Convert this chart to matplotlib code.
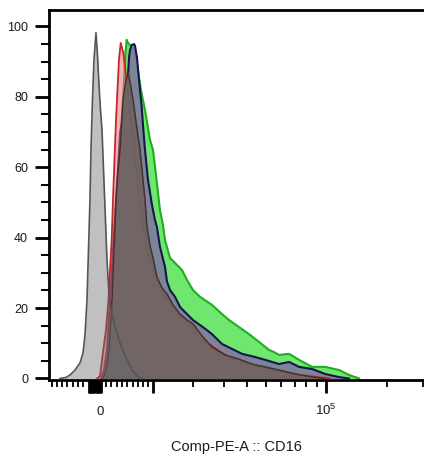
import matplotlib
matplotlib.use('Agg')
import matplotlib.pyplot as plt
from matplotlib.ticker import FixedLocator, FuncFormatter

plt.rcParams['font.family'] = ['Liberation Sans', 'DejaVu Sans']
plt.rcParams['mathtext.default'] = 'regular'

# ---------------- data (fluorescence value, % of max) ----------------
gray_x = [-7420, -6250, -5480, -4540, -3620, -3070, -2700, -2340, -2070, -1800, -1620,
          -1350, -1080, -720, -450, -180, 90, 360, 810, 1260, 1620, 2160, 2890, 3620,
          4730, 5860, 7020, 8010]
gray_y = [0, 0.3, 1.0, 2.4, 4.4, 7.2, 12.4, 22.3, 36.5, 50.7, 64.9,
          79.1, 90.5, 98.2, 91.9, 83.4, 76.3, 70.6, 52.1, 33.7, 23.7, 18.0, 13.8, 10.1,
          5.8, 2.4, 0.4, 0]

red_x = [-540, 0, 540, 1080, 1530, 1800, 2100, 2340, 2610, 2890, 3160, 3430, 3750, 3990,
         4230, 4730, 5480, 6250, 7020, 8010, 9440, 11580, 16360, 21940, 32500, 46770,
         74460, 104830]
red_y = [0, 0.7, 7.5, 13.8, 22.3, 30.8, 39.3, 50.7, 62.1, 73.4, 82.0, 90.5, 95.3, 93.9,
         92.5, 86.2, 76.3, 64.9, 55.0, 43.6, 33.1, 25.1, 17.2, 11.5, 5.8, 3.2,
         1.0, 0]

green_x = [360, 900, 1440, 1980, 2520, 3070, 3430, 3800, 4170, 4450, 4640, 4860, 5110,
           6060, 6920, 7590, 8420, 9440, 10080, 10720, 11580, 12260, 12720, 13900, 15100,
           16870, 18200, 19870, 21940, 25800, 29370, 32090, 36330, 41010, 46210, 52000,
           55120, 58440, 65600, 73600, 85420, 99040, 116100, 130000, 145500]
green_y = [0, 2.4, 8.1, 22.3, 36.5, 50.7, 60.7, 70.6, 79.1, 87.6, 92.5, 96.2, 95.3,
           93.9, 88.5, 82.0, 76.3, 67.8, 64.9, 57.8, 47.9, 43.6, 39.3, 34.2, 32.8,
           30.8, 28.0, 25.1, 23.2, 20.9, 18.3, 16.6, 14.6, 12.6, 10.4, 8.1,
           7.5, 6.7, 7.0, 5.3, 3.3, 3.3, 2.4, 1.0, 0]

navy_x = [180, 720, 1260, 1800, 2340, 2890, 3250, 3620, 4360, 4860, 5110, 5300, 5480,
          5810, 6250, 6440, 6830, 7220, 7760, 8010, 8420, 9030, 9860, 10500, 10930,
          11580, 12720, 13180, 13900, 15100, 16360, 19870, 22830, 25800, 29370, 33310,
          37680, 44060, 49620, 58440, 65600, 73600, 85420, 99040, 116100, 130000]
navy_y = [0, 2.4, 8.1, 22.3, 36.5, 50.7, 59.2, 69.7, 76.3, 79.1, 86.2, 91.1, 93.3,
          94.7, 95.0, 94.5, 91.1, 84.8, 77.1, 72.0, 64.9, 56.4, 49.3, 45.0, 43.0,
          37.4, 31.7, 27.5, 25.1, 23.2, 20.3, 16.6, 14.6, 12.6, 9.8, 8.4,
          7.0, 6.1, 5.3, 4.1, 4.7, 3.3, 2.7, 1.3, 0.4, 0]

brown_x = [540, 1080, 1620, 2160, 2520, 2890, 3250, 3620, 4170, 4730, 5160, 5580, 6060,
           6730, 7420, 8420, 8820, 9440, 10080, 10930, 12040, 13180, 14610, 16360, 18200,
           19870, 22830, 25800, 30500, 36330, 42510, 49620, 58440, 70310, 85420, 99040]
brown_y = [0, 2.4, 8.1, 22.3, 36.5, 50.7, 59.2, 64.9, 79.1, 84.8, 86.8, 83.4, 79.1,
           72.0, 64.9, 50.7, 43.0, 37.9, 34.2, 28.8, 25.7, 24.0, 20.9, 18.3, 16.6,
           15.5, 11.8, 8.9, 6.7, 5.5, 4.1, 3.3, 2.4, 1.3, 0.4, 0]

y_ticks = [0, 20, 40, 60, 80, 100]
x_tick_labels = {0: '0', 100000: r'$\mathregular{10^5}$'}

# ---------------- figure ----------------
W, H = 424, 454
fig = plt.figure(figsize=(W / 100, H / 100), dpi=100)
ax = fig.add_axes([49 / W, 74 / H, 375 / W, (444.5 - 74) / H])
ax.set_xscale('asinh', linear_width=16000)
ax.set_xlim(-9650, 302000)
ax.set_ylim(-0.43, 104.8)

series = [
    (green_x, green_y, '#3fe03f', 0.75, '#1fae1f', 1.5),
    (navy_x, navy_y, '#7d7d9d', 0.92, '#16164a', 1.5),
    (red_x, red_y, '#f07080', 0.55, '#c02828', 1.3),
    (brown_x, brown_y, '#6e6464', 0.95, '#4a2f2f', 1.1),
    (gray_x, gray_y, '#6a6a6a', 0.42, '#555555', 1.2),
]
for i, (x, y, fc, fa, lc, lw) in enumerate(series):
    ax.fill_between(x, y, 0, color=fc, alpha=fa, lw=0, zorder=2 + i)
    ax.plot(x, y, color=lc, lw=lw, zorder=2 + i, solid_joinstyle='round')

# spines
for s in ['left', 'top', 'bottom']:
    ax.spines[s].set_linewidth(2)
    ax.spines[s].set_color('black')
ax.spines['right'].set_visible(False)

# y ticks
ax.yaxis.set_major_locator(FixedLocator(y_ticks))
ax.yaxis.set_minor_locator(FixedLocator([v for v in range(5, 105, 5) if v % 20]))
ax.tick_params(axis='y', which='major', length=10, width=2, pad=5,
               labelsize=9, labelcolor='#1a1a1a')
ax.tick_params(axis='y', which='minor', length=5.5, width=1.4)

# x ticks (biexponential-style)
major_x = [v for v in range(-2000, 400, 200)] + [10000, 100000]
minor_x = ([-v for v in range(3000, 10000, 1000)] + list(range(1000, 10000, 1000))
           + list(range(20000, 100000, 10000)) + [200000, 300000])
ax.xaxis.set_major_locator(FixedLocator(major_x))
ax.xaxis.set_minor_locator(FixedLocator(minor_x))
ax.xaxis.set_major_formatter(FuncFormatter(lambda v, p: x_tick_labels.get(int(round(v)), '')))
ax.xaxis.set_minor_formatter(FuncFormatter(lambda v, p: ''))
ax.tick_params(axis='x', which='major', length=9, width=2, pad=16,
               labelsize=9.5, labelcolor='#1a1a1a')
ax.tick_params(axis='x', which='minor', length=5, width=1.3)
plt.setp(ax.get_xticklabels(), va='baseline')

ax.set_xlabel('Comp-PE-A :: CD16', fontsize=10.5, color='#1a1a1a')
ax.xaxis.set_label_coords(0.5, -0.163)

fig.savefig('out.png', dpi=100)
